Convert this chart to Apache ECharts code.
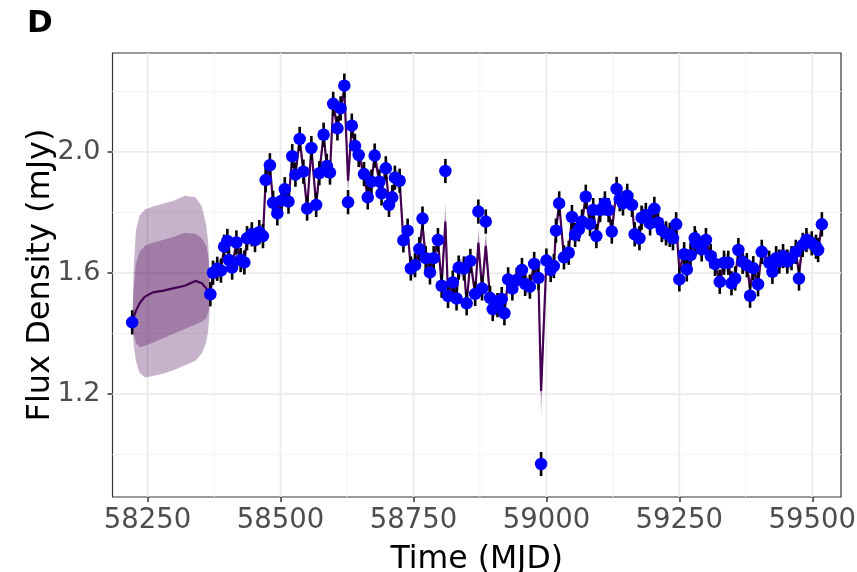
<!DOCTYPE html>
<html><head><meta charset="utf-8">
<script src="https://cdn.jsdelivr.net/npm/echarts@6/dist/echarts.min.js"></script>
<style>html,body{margin:0;padding:0;background:#fff}#c{width:857px;height:572px}</style>
</head><body><div id="c"></div>
<script>
// ---- axis ticks ----
const xTicks = [58250, 58500, 58750, 59000, 59250, 59500];
const xMinor = [58375, 58625, 58875, 59125, 59375];
const yTicks = [1.2, 1.6, 2.0];
const yMinor = [1.0, 1.4, 1.8, 2.2];
const X_MIN = 58184, X_MAX = 59554, Y_MIN = 0.86, Y_MAX = 2.327;

// ---- observations ----
const obsTime = [58221,58368,58373,58381,58388,58394,58400,58403,58409,58417,
58425,58432,58437,58446,58452,58460,58467,58472,58480,58486,
58494,58502,58508,58515,58522,58528,58536,58543,58550,58558,
58567,58573,58581,58587,58593,58599,58607,58613,58620,58627,
58634,58640,58647,58657,58664,58671,58677,58686,58690,58698,
58704,58710,58715,58724,58731,58739,58745,58753,58761,58767,
58773,58781,58788,58796,58803,58810,58815,58824,58831,58835,
58845,58850,58857,58866,58872,58879,58886,58894,58899,58908,
58916,58921,58928,58936,58944,58954,58960,58969,58977,58985,
58990,59000,59008,59014,59018,59024,59033,59042,59048,59054,
59061,59067,59074,59082,59088,59094,59101,59110,59117,59123,
59132,59138,59144,59152,59161,59166,59175,59179,59187,59195,
59203,59210,59217,59225,59232,59238,59244,59250,59259,59264,
59271,59279,59281,59292,59300,59309,59317,59326,59334,59342,
59348,59355,59361,59369,59377,59383,59389,59398,59405,59419,
59425,59432,59438,59445,59453,59461,59469,59475,59482,59489,
59499,59507,59511,59518];
const obsFlux = [1.437,1.530,1.601,1.614,1.608,1.687,1.706,1.643,1.618,1.701,
1.643,1.635,1.715,1.728,1.709,1.735,1.722,1.907,1.956,1.832,
1.797,1.839,1.877,1.836,1.986,1.925,2.043,1.935,1.813,2.013,
1.825,1.930,2.057,1.954,1.932,2.159,2.078,2.144,2.219,1.834,
2.087,2.020,1.990,1.927,1.850,1.902,1.988,1.902,1.863,1.946,
1.825,1.850,1.915,1.905,1.708,1.740,1.615,1.626,1.679,1.780,
1.649,1.602,1.649,1.709,1.558,1.937,1.524,1.569,1.516,1.618,
1.615,1.500,1.640,1.531,1.803,1.549,1.770,1.518,1.481,1.494,
1.514,1.467,1.579,1.549,1.577,1.610,1.564,1.555,1.630,1.584,
0.969,1.641,1.610,1.623,1.740,1.830,1.652,1.667,1.785,1.726,
1.744,1.770,1.852,1.762,1.808,1.722,1.808,1.830,1.808,1.737,
1.878,1.844,1.830,1.855,1.825,1.728,1.715,1.783,1.792,1.764,
1.812,1.766,1.742,1.731,1.726,1.715,1.761,1.579,1.662,1.612,
1.659,1.715,1.700,1.678,1.709,1.656,1.630,1.571,1.634,1.634,
1.566,1.582,1.676,1.637,1.626,1.525,1.616,1.563,1.670,1.634,
1.604,1.649,1.638,1.656,1.638,1.649,1.670,1.582,1.693,1.709,
1.698,1.687,1.676,1.761];
const obsErr = 0.04;

// ---- model fit at observation times ----
const fitFlux = [1.437,1.530,1.601,1.614,1.608,1.687,1.706,1.643,1.618,1.701,
1.643,1.635,1.715,1.728,1.709,1.735,1.722,1.907,1.956,1.832,
1.797,1.839,1.877,1.836,1.986,1.925,2.043,1.935,1.813,2.013,
1.825,1.930,2.057,1.954,1.932,2.159,2.078,2.144,2.205,1.905,
2.087,2.020,1.990,1.927,1.850,1.902,1.988,1.902,1.863,1.946,
1.825,1.850,1.915,1.905,1.708,1.740,1.615,1.626,1.679,1.760,
1.649,1.602,1.649,1.709,1.560,1.770,1.524,1.569,1.516,1.618,
1.615,1.500,1.640,1.531,1.700,1.549,1.690,1.518,1.481,1.494,
1.514,1.467,1.579,1.549,1.577,1.610,1.564,1.555,1.630,1.584,
1.210,1.641,1.610,1.623,1.740,1.830,1.652,1.667,1.785,1.726,
1.744,1.770,1.852,1.762,1.808,1.722,1.808,1.830,1.808,1.737,
1.878,1.844,1.830,1.855,1.825,1.728,1.715,1.783,1.792,1.764,
1.812,1.766,1.742,1.731,1.726,1.715,1.761,1.610,1.662,1.612,
1.659,1.715,1.700,1.678,1.709,1.656,1.630,1.571,1.634,1.634,
1.566,1.582,1.676,1.637,1.626,1.550,1.616,1.563,1.670,1.634,
1.604,1.649,1.638,1.656,1.638,1.649,1.670,1.600,1.693,1.709,
1.698,1.687,1.676,1.761];
const fitOuterHalf = 0.03, fitInnerHalf = 0.015;
const wideTimes = [58627, 58767, 58810, 58872, 58886, 58990];
const wideOuter = [0.05, 0.04, 0.065, 0.05, 0.05, 0.085];

// ---- model in the gap before monitoring ----
const gapTime    = [58221,58224,58228,58235,58245,58260,58280,58300,58320,58340,58352,58360,58364,58366,58368];
const gapMean    = [1.437,1.455,1.475,1.500,1.522,1.536,1.542,1.550,1.558,1.574,1.566,1.550,1.542,1.536,1.530];
const gapOuterHi = [1.437,1.620,1.740,1.790,1.810,1.820,1.830,1.840,1.855,1.850,1.820,1.760,1.700,1.620,1.530];
const gapOuterLo = [1.437,1.360,1.310,1.270,1.255,1.260,1.268,1.280,1.295,1.310,1.335,1.370,1.410,1.460,1.530];
const gapInnerHi = [1.437,1.550,1.630,1.670,1.690,1.700,1.710,1.720,1.733,1.730,1.715,1.690,1.660,1.610,1.530];
const gapInnerLo = [1.437,1.400,1.370,1.355,1.360,1.370,1.385,1.400,1.415,1.430,1.440,1.450,1.470,1.490,1.530];

// ---- build series data ----
const FONT = 'DejaVu Sans';
const bandT = gapTime.slice(), oHi = gapOuterHi.slice(), oLo = gapOuterLo.slice(), iHi = gapInnerHi.slice(), iLo = gapInnerLo.slice();
const lineData = gapTime.map((t, i) => [t, gapMean[i]]);
for (let i = 2; i < obsTime.length; i++) {
  const w = wideTimes.indexOf(obsTime[i]);
  const ho = w >= 0 ? wideOuter[w] : fitOuterHalf;
  const hi = w >= 0 ? wideOuter[w] / 2 : fitInnerHalf;
  bandT.push(obsTime[i]);
  oHi.push(fitFlux[i] + ho); oLo.push(fitFlux[i] - ho);
  iHi.push(fitFlux[i] + hi); iLo.push(fitFlux[i] - hi);
  lineData.push([obsTime[i], fitFlux[i]]);
}
const obsData = obsTime.map((t, i) => [t, obsFlux[i]]);

function bandSeries(times, lo, hi, color) {
  return {
    type: 'custom', coordinateSystem: 'cartesian2d', silent: true, z: 2,
    data: [[times[0], lo[0]]], encode: { x: 0, y: 1 },
    renderItem: function (params, api) {
      const pts = [];
      for (let i = 0; i < times.length; i++) pts.push(api.coord([times[i], hi[i]]));
      for (let i = times.length - 1; i >= 0; i--) pts.push(api.coord([times[i], lo[i]]));
      return { type: 'polygon', shape: { points: pts }, style: { fill: color } };
    }
  };
}

const gridItems = [];
const xMid = (X_MIN + X_MAX) / 2, yMid = (Y_MIN + Y_MAX) / 2;
xTicks.forEach(v => gridItems.push([v, yMid, 0, 1]));
xMinor.forEach(v => gridItems.push([v, yMid, 0, 0]));
yTicks.forEach(v => gridItems.push([xMid, v, 1, 1]));
yMinor.forEach(v => gridItems.push([xMid, v, 1, 0]));

const chart = echarts.init(document.getElementById('c'), null, { renderer: 'canvas' });
chart.setOption({
  animation: false,
  backgroundColor: '#fff',
  title: { text: 'D', left: 22, top: 3, textStyle: { fontSize: 31, fontWeight: 'bold', fontFamily: FONT, color: '#000' } },
  grid: { left: 112.5, right: 16, top: 53, bottom: 75, show: true, borderColor: '#333', borderWidth: 1.2, backgroundColor: '#fff', containLabel: false, outerBoundsMode: 'none' },
  xAxis: {
    type: 'value', min: X_MIN, max: X_MAX,
    name: 'Time (MJD)', nameLocation: 'middle', nameGap: 47,
    nameTextStyle: { fontSize: 31.5, fontFamily: FONT, color: '#000' },
    axisLine: { show: false }, splitLine: { show: false },
    axisTick: { show: true, length: 5, lineStyle: { color: '#333', width: 1.5 }, customValues: xTicks },
    axisLabel: { fontSize: 27.5, fontFamily: FONT, color: '#4d4d4d', margin: 10, customValues: xTicks, formatter: v => String(v) }
  },
  yAxis: {
    type: 'value', min: Y_MIN, max: Y_MAX,
    name: 'Flux Density (mJy)', nameLocation: 'middle', nameGap: 56, nameMoveOverlap: false,
    nameTextStyle: { fontSize: 32, fontFamily: FONT, color: '#000' },
    axisLine: { show: false }, splitLine: { show: false },
    axisTick: { show: true, length: 5, lineStyle: { color: '#333', width: 1.5 }, customValues: yTicks },
    axisLabel: { fontSize: 27, fontFamily: FONT, color: '#4d4d4d', margin: 12, customValues: yTicks, formatter: v => v.toFixed(1) }
  },
  series: [
    {
      type: 'custom', coordinateSystem: 'cartesian2d', silent: true, z: 1,
      data: gridItems, encode: { x: 0, y: 1 },
      renderItem: function (params, api) {
        const cs = params.coordSys;
        const kind = api.value(2), major = api.value(3);
        let shape;
        if (kind === 0) { const x = api.coord([api.value(0), yMid])[0]; shape = { x1: x, y1: cs.y, x2: x, y2: cs.y + cs.height }; }
        else { const y = api.coord([xMid, api.value(1)])[1]; shape = { x1: cs.x, y1: y, x2: cs.x + cs.width, y2: y }; }
        return { type: 'line', shape: shape, style: { stroke: major ? '#ebebeb' : '#f3f3f3', lineWidth: major ? 1.8 : 1.0 } };
      }
    },
    bandSeries(bandT, oLo, oHi, 'rgba(68,1,84,0.3)'),
    bandSeries(bandT, iLo, iHi, 'rgba(68,1,84,0.3)'),
    { type: 'line', data: lineData, showSymbol: false, silent: true, z: 3, lineStyle: { color: '#440154', width: 2.2 } },
    {
      type: 'custom', coordinateSystem: 'cartesian2d', silent: true, z: 4,
      data: obsData, encode: { x: 0, y: 1 },
      renderItem: function (params, api) {
        const t = api.value(0), f = api.value(1);
        const p1 = api.coord([t, f - obsErr]), p2 = api.coord([t, f + obsErr]);
        return { type: 'line', shape: { x1: p1[0], y1: p1[1], x2: p2[0], y2: p2[1] }, style: { stroke: '#000', lineWidth: 2.6 } };
      }
    },
    { type: 'scatter', data: obsData, symbol: 'circle', symbolSize: 12.5, silent: true, z: 5, itemStyle: { color: '#0000ff', opacity: 1 } }
  ]
});
</script>
</body></html>
